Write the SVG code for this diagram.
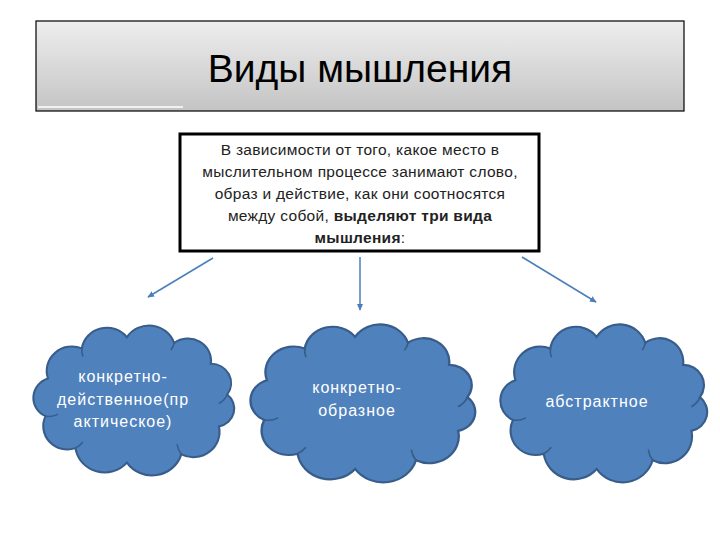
<svg xmlns="http://www.w3.org/2000/svg" width="720" height="540" viewBox="0 0 720 540">
<defs>
<linearGradient id="tg" x1="0" y1="0" x2="0" y2="1">
<stop offset="0" stop-color="#eeeeee"/>
<stop offset="1" stop-color="#c4c4c4"/>
</linearGradient>
<marker id="ah" viewBox="0 0 10 10" refX="8" refY="5" markerWidth="5" markerHeight="5" orient="auto" markerUnits="strokeWidth">
<path d="M0,1 L9,5 L0,9 Z" fill="#4a7ebb"/>
</marker>
<path id="cloud" d="M17.3,53.8 A24,24 0 0 1 49.5,24.2 A24,24 0 0 1 92.3,13.2 A25,25 0 0 1 137.2,18.8 A22,22 0 0 1 172.1,39.4 A19,19 0 0 1 187.7,69.6 A18,18 0 0 1 179.8,101.2 A25,25 0 0 1 144,128.7 A29,29 0 0 1 92.3,136.8 A28,28 0 0 1 43.4,122.5 A23,23 0 0 1 15,91 A20,20 0 0 1 17.3,53.8 Z"/>
<path id="cloudin" d="M49.5,24.2 a20,20 0 0 0 1,8 M137.2,18.8 a16,16 0 0 1 -3,7 M187.7,69.6 a18,18 0 0 1 -8,9 M144,128.7 a22,22 0 0 1 -4,-10 M43.4,122.5 a20,20 0 0 0 7,-6 M15,91 a18,18 0 0 0 12,-2"/>
</defs>
<style>
.cl{fill:#4f81bd;stroke:#385d8a;stroke-width:2;vector-effect:non-scaling-stroke}
.ci{fill:none;stroke:#385d8a;stroke-width:1.5;vector-effect:non-scaling-stroke}
.ct{font-family:"Liberation Sans",Arial,sans-serif;font-size:16px;letter-spacing:1px;fill:#ffffff;text-anchor:middle}
.bt{font-family:"Liberation Sans",Arial,sans-serif;font-size:15.5px;letter-spacing:0.3px;fill:#222222;text-anchor:middle}
.conn{stroke:#4a7ebb;stroke-width:1.5;fill:none;marker-end:url(#ah)}
</style>
<rect width="720" height="540" fill="#ffffff"/>
<g id="title">
<rect x="36" y="21" width="648" height="90" fill="url(#tg)" stroke="#000000" stroke-width="1.2"/>
<line x1="38" y1="107" x2="183" y2="107" stroke="#ffffff" stroke-width="1.5"/>
<text x="360" y="82" font-family="Liberation Sans,Arial,sans-serif" font-size="39" fill="#000000" text-anchor="middle">Виды мышления</text>
</g>
<g id="desc">
<rect x="180" y="134" width="359" height="117" fill="#ffffff" stroke="#000000" stroke-width="3"/>
<text class="bt" x="360" y="155">В зависимости от того, какое место в</text>
<text class="bt" x="360" y="177">мыслительном процессе занимают слово,</text>
<text class="bt" x="360" y="199">образ и действие, как они соотносятся</text>
<text class="bt" x="360" y="221">между собой, <tspan font-weight="bold">выделяют три вида</tspan></text>
<text class="bt" x="360" y="243"><tspan font-weight="bold">мышления</tspan>:</text>
</g>
<g id="connectors">
<line class="conn" x1="213" y1="258" x2="148" y2="297"/>
<line class="conn" x1="360" y1="257" x2="360" y2="310"/>
<line class="conn" x1="522" y1="257" x2="596" y2="302"/>
</g>
<g id="cloud1">
<use href="#cloud" class="cl" transform="translate(29.8,323.9) scale(1.052,1.014)"/>
<use href="#cloudin" class="ci" transform="translate(29.8,323.9) scale(1.052,1.014)"/>
<text class="ct" x="123" y="382">конкретно-</text>
<text class="ct" x="123" y="405">действенное(пр</text>
<text class="ct" x="123" y="427">актическое)</text>
</g>
<g id="cloud2">
<use href="#cloud" class="cl" transform="translate(246.5,322.7) scale(1.177,1.069)"/>
<use href="#cloudin" class="ci" transform="translate(246.5,322.7) scale(1.177,1.069)"/>
<text class="ct" x="357" y="393">конкретно-</text>
<text class="ct" x="357" y="416">образное</text>
</g>
<g id="cloud3">
<use href="#cloud" class="cl" transform="translate(496.7,322.7) scale(1.083,1.069)"/>
<use href="#cloudin" class="ci" transform="translate(496.7,322.7) scale(1.083,1.069)"/>
<text class="ct" x="597" y="407">абстрактное</text>
</g>
</svg>
